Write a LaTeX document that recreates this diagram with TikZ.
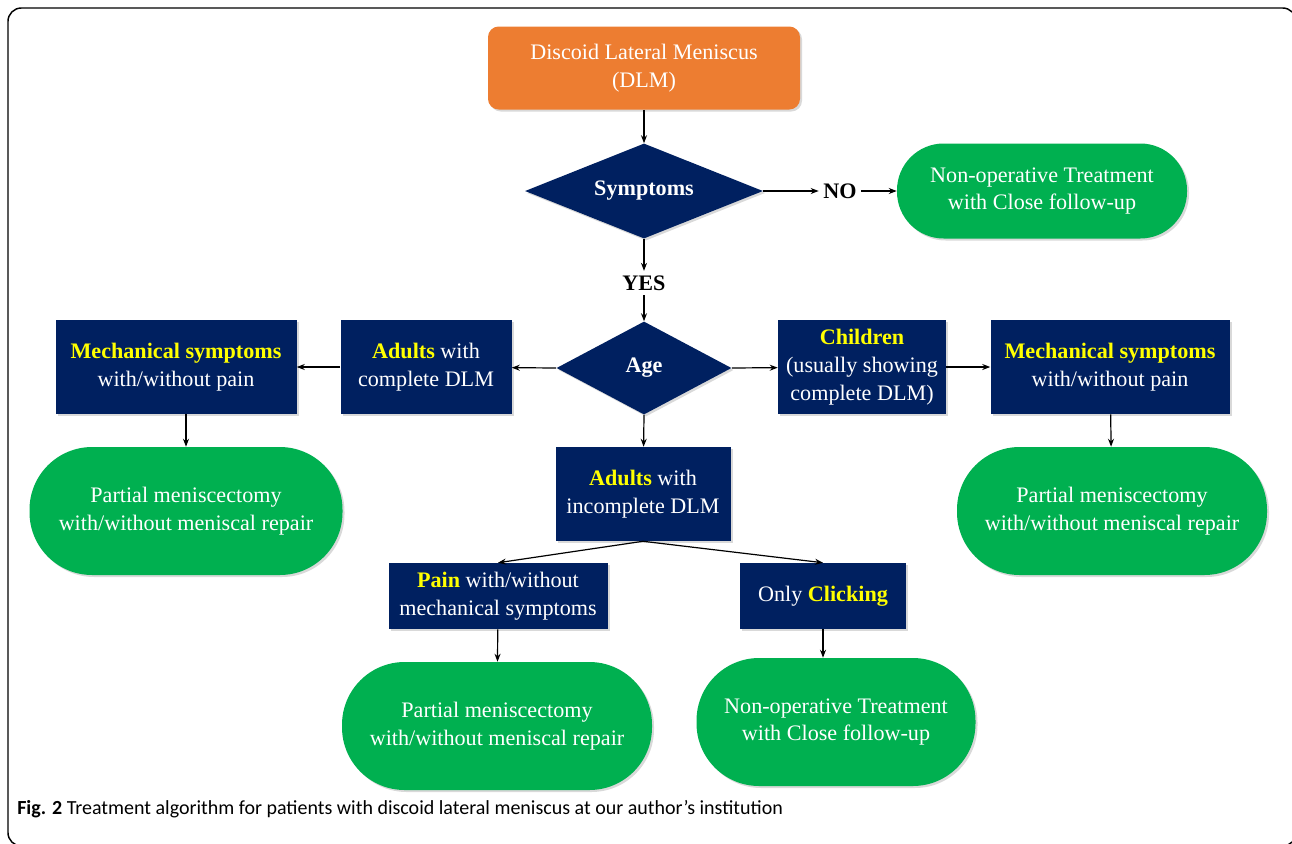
\documentclass[tikz,border=0pt]{standalone}
\usepackage{fontspec}
\setmainfont{Liberation Serif}
\newfontfamily\captionfont{Carlito}
\usetikzlibrary{arrows.meta,shapes.geometric,shadows}
\definecolor{dlmorange}{RGB}{237,125,49}
\definecolor{boxnavy}{RGB}{0,32,96}
\definecolor{okgreen}{RGB}{0,176,80}
\definecolor{hiyellow}{RGB}{255,255,0}
\newcommand{\keyword}[1]{\textcolor{hiyellow}{\textbf{#1}}}

\begin{document}
\begin{tikzpicture}[x=0.75pt,y=-0.75pt,>={Stealth[length=6pt,width=4.5pt]},
 font=\fontsize{16.6}{20.8}\selectfont,
 boxsize/.style 2 args={minimum width=#1*0.75pt,minimum height=#2*0.75pt},
 softshadow/.style={drop shadow={opacity=0.3,shadow xshift=1.5pt,shadow yshift=-1.5pt}},
 navybox/.style={rectangle,fill=boxnavy,text=white,align=center,inner sep=2pt,softshadow},
 decision/.style={diamond,fill=boxnavy,text=white,font=\fontsize{16.6}{20.8}\selectfont\bfseries,inner sep=0pt,softshadow},
 outcome/.style={rectangle,fill=okgreen,text=white,align=center,softshadow},
 flow/.style={->,line width=0.9pt}]
\useasboundingbox (0,0) rectangle (1292,843);
\draw[line width=1.1pt,rounded corners=10pt] (8,846) rectangle (1296,8);

% start and first decision
\node[rectangle,fill=dlmorange,text=white,align=center,rounded corners=8pt,boxsize={312}{83},softshadow]
 (dlm) at (644,68) {Discoid Lateral Meniscus\\(DLM)};
\node[decision,aspect=2.5,boxsize={238}{95}] (symptoms) at (644,191) {Symptoms};
\node[font=\fontsize{16.6}{20.8}\selectfont\bfseries] (no) at (840,191) {NO};
\node[outcome,rounded corners=35pt,boxsize={290}{95}] (nonoptop) at (1042,191)
 {Non-operative Treatment\\with Close follow-up};
\node[font=\fontsize{16.6}{20.8}\selectfont\bfseries] (yes) at (644,283) {YES};
\draw[flow] (dlm) -- (symptoms);
\draw[flow] (symptoms.east) -- (no);
\draw[flow] (no) -- (nonoptop);
\draw[flow] (symptoms.south) -- (yes);

% age split
\node[decision,aspect=1.9,boxsize={175}{93}] (age) at (644,368) {Age};
\draw[flow] (yes) -- (age.north);
\node[navybox,boxsize={171}{94}] (adultscomp) at (426,367) {\keyword{Adults} with\\complete DLM};
\node[navybox,boxsize={241}{94}] (mechleft) at (176,367) {\keyword{Mechanical symptoms}\\with/without pain};
\node[navybox,boxsize={168}{94}] (children) at (862,367) {\keyword{Children}\\(usually showing\\complete DLM)};
\node[navybox,boxsize={239}{94}] (mechright) at (1110,367) {\keyword{Mechanical symptoms}\\with/without pain};
\node[navybox,boxsize={175}{94}] (adultsinc) at (643,494) {\keyword{Adults} with\\incomplete DLM};
\draw[flow] (age.west) -- (adultscomp);
\draw[flow] (adultscomp) -- (mechleft);
\draw[flow] (age.east) -- (children);
\draw[flow] (children) -- (mechright);
\draw[flow] (age.south) -- (adultsinc);

% treatments left and right
\node[outcome,rounded corners=47pt,boxsize={313}{128}] (partleft) at (186,511)
 {Partial meniscectomy\\with/without meniscal repair};
\node[outcome,rounded corners=47pt,boxsize={310}{128}] (partright) at (1112,511)
 {Partial meniscectomy\\with/without meniscal repair};
\draw[flow] (mechleft.south -| partleft) -- (partleft);
\draw[flow] (mechright) -- (partright);

% incomplete DLM
\node[navybox,boxsize={219}{66}] (pain) at (498,596) {\keyword{Pain} with/without\\mechanical symptoms};
\node[navybox,boxsize={166}{66}] (clicking) at (823,596) {Only \keyword{Clicking}};
\draw[flow] (adultsinc.south) -- (pain.north);
\draw[flow] (adultsinc.south) -- (clicking.north);
\node[outcome,rounded corners=47pt,boxsize={310}{128}] (partmid) at (497,726)
 {Partial meniscectomy\\with/without meniscal repair};
\node[outcome,rounded corners=47pt,boxsize={279}{128}] (nonopmid) at (836,722)
 {Non-operative Treatment\\with Close follow-up};
\draw[flow] (pain) -- (partmid);
\draw[flow] (clicking.south) -- (clicking.south |- nonopmid.north);

\node[anchor=base west,inner sep=0pt,font=\captionfont\fontsize{15}{18}\selectfont] (caption) at (17,814)
 {\textbf{Fig. 2} Treatment algorithm for patients with discoid lateral meniscus at our author’s institution};
\end{tikzpicture}
\end{document}
